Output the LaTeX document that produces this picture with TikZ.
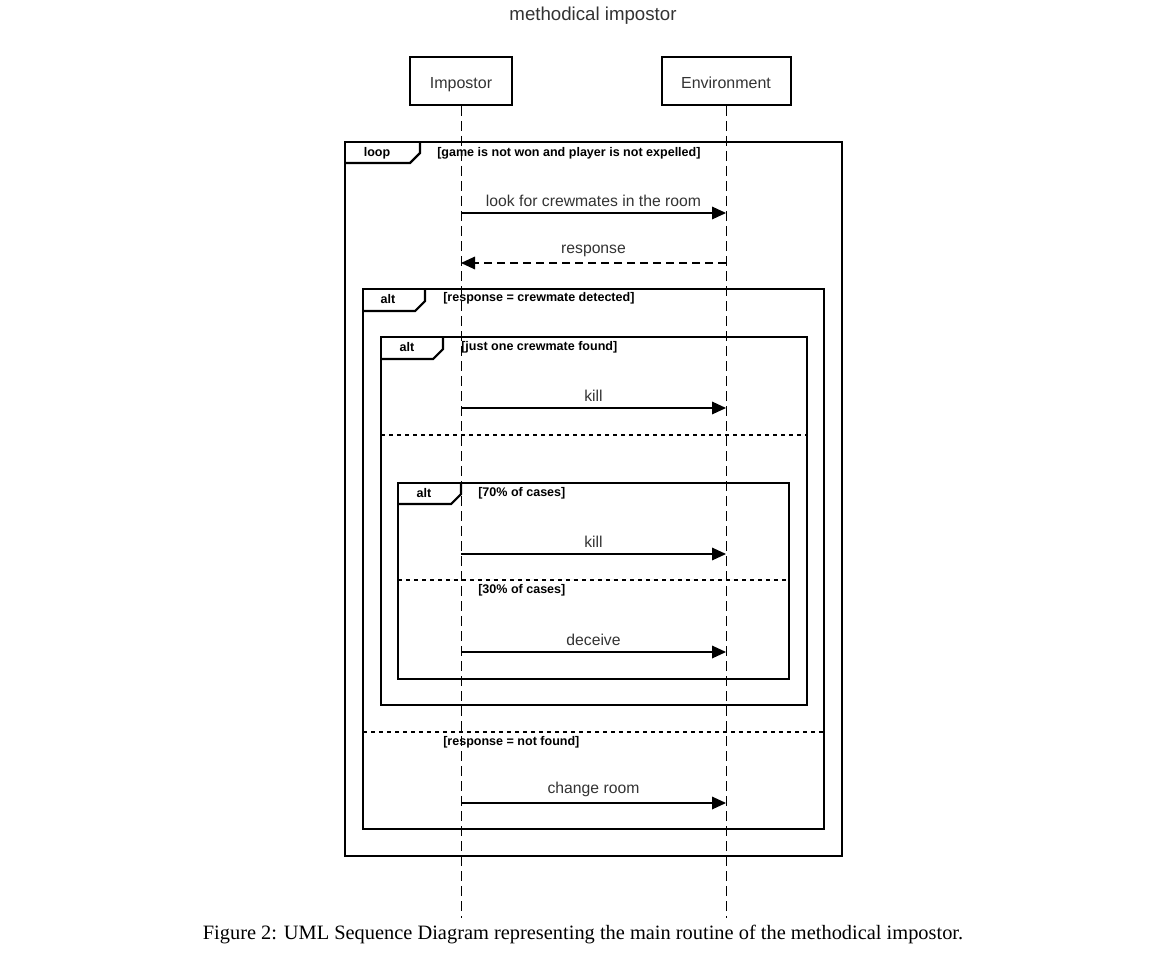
\documentclass[tikz,border=0pt]{standalone}
\usepackage{fontspec}
\setmainfont{Liberation Serif}
\setsansfont{Liberation Sans}
\usetikzlibrary{arrows.meta,positioning,calc}
\tikzset{
  actor/.style={draw,line width=1.5pt,minimum height=36pt,inner sep=2pt,
    text height=11.6pt,text depth=0pt,
    font=\sffamily\fontsize{12}{14}\selectfont,text=black!80},
  lifeline/.style={draw,line width=0.75pt,dash pattern=on 7.5pt off 3.75pt},
  frame/.style={draw,line width=1.6pt},
  msg/.style={draw,line width=0.9pt,-{Triangle[length=10.5pt,width=9.5pt]}},
  reply/.style={msg,dash pattern=on 6pt off 3.75pt},
  msglabel/.style={font=\sffamily\fontsize{11.8}{14}\selectfont,text=black!80,above=1pt},
  opname/.style={font=\sffamily\bfseries\fontsize{9.4}{11}\selectfont,inner sep=0pt},
  guard/.style={opname,anchor=west},
  divider/.style={draw,line width=1.4pt,dash pattern=on 3pt off 3pt},
}
\begin{document}
\begin{tikzpicture}[x=0.75pt,y=-0.75pt]
\useasboundingbox (0,0) rectangle (1169,952);

\node[font=\sffamily\fontsize{14}{16}\selectfont,text=black!80] (title) at (593,16) {methodical impostor};

% participants
\node[actor,minimum width=76.5pt] (imp) at (461,81) {Impostor};
\node[actor,minimum width=96.75pt,right of=imp,node distance=198.75pt] (env) {Environment};

\coordinate (impend) at (imp |- 0,918);
\coordinate (envend) at (env |- 0,918);
\draw[lifeline] (imp) -- (impend);
\draw[lifeline] (env) -- (envend);

% loop
\draw[frame] (345,142) rectangle (842,856);
\draw[frame] (345,163) -- (410,163) -- (420,153) -- (420,142);
\node[opname] (loopname) at (377,153) {loop};
\node[guard] (loopguard) at (437,153) {[game is not won and player is not expelled]};

% alt: crewmate detected / not found
\draw[frame] (363,289) rectangle (824,829);
\draw[frame] (363,311) -- (415,311) -- (425,301) -- (425,289);
\node[opname] (altaname) at (388,299) {alt};
\node[guard] (altaguard) at (443,298) {[response = crewmate detected]};
\draw[divider] (363,732) -- (824,732);
\node[guard] (altaelse) at (443,742) {[response = not found]};

% alt: just one crewmate
\draw[frame] (381,337) rectangle (807,705);
\draw[frame] (381,359) -- (433,359) -- (443,349) -- (443,337);
\node[opname] (altbname) at (407,347) {alt};
\node[guard] (altbguard) at (461,347) {[just one crewmate found]};
\draw[divider] (381,435) -- (807,435);

% alt: 70/30
\draw[frame] (398,483) rectangle (789,679);
\draw[frame] (398,504) -- (451,504) -- (461,494) -- (461,483);
\node[opname] (altcname) at (424,493) {alt};
\node[guard] (altcguard) at (478,493) {[70\% of cases]};
\draw[divider] (398,580) -- (789,580);
\node[guard] (altcelse) at (478,590) {[30\% of cases]};

% messages
\foreach \m/\y in {look/213,resp/263,killa/408,killb/554,dec/652,chg/803}{
  \coordinate (i-\m) at (imp |- 0,\y);
  \coordinate (e-\m) at (env |- 0,\y);
}
\path
(i-look) edge[msg] node[msglabel] (lookl) {look for crewmates in the room} (e-look)
(e-resp) edge[reply] node[msglabel] (respl) {response} (i-resp)
(i-killa) edge[msg] node[msglabel] (killal) {kill} (e-killa)
(i-killb) edge[msg] node[msglabel] (killbl) {kill} (e-killb)
(i-dec) edge[msg] node[msglabel] (decl) {deceive} (e-dec)
(i-chg) edge[msg] node[msglabel] (chgl) {change room} (e-chg);

\node[font=\fontsize{15.3}{17}\selectfont] (caption) at (583,935) {Figure 2: UML Sequence Diagram representing the main routine of the methodical impostor.};
\end{tikzpicture}
\end{document}
